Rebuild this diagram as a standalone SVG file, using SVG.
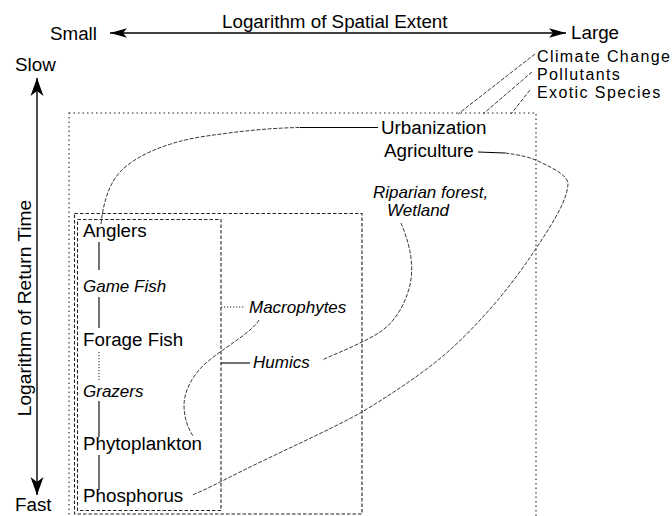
<svg xmlns="http://www.w3.org/2000/svg" width="672" height="516" viewBox="0 0 672 516">
  <defs>
    <style>
      .t { font-family: "Liberation Sans", Arial, Helvetica, sans-serif; font-size: 18.8px; fill: #000; }
      .d { font-family: "Liberation Sans", Arial, Helvetica, sans-serif; font-size: 16px; letter-spacing: 1.4px; fill: #000; }
      .i { font-family: "Liberation Sans", Arial, Helvetica, sans-serif; font-size: 17px; font-style: italic; fill: #000; }
      .axis { stroke: #000; stroke-width: 1.4; fill: none; }
      .solid { stroke: #000; stroke-width: 1.1; fill: none; }
      .dash { stroke: #222; stroke-width: 0.9; fill: none; stroke-dasharray: 4 1.6; }
      .dot { stroke: #222; stroke-width: 1; fill: none; stroke-dasharray: 1.2 1.8; }
      .outer { stroke: #222; stroke-width: 1.1; fill: none; stroke-dasharray: 1.5 3; }
      .boxd { stroke: #222; stroke-width: 1.1; fill: none; stroke-dasharray: 3.5 2; }
    </style>
    <marker id="arrH" markerUnits="userSpaceOnUse" markerWidth="20" markerHeight="12" refX="17" refY="6" orient="auto-start-reverse" viewBox="0 0 20 12">
      <path d="M0,1.2 L17,6 L0,10.8 L4,6 Z" fill="#000"/>
    </marker>
    <marker id="arrV" markerUnits="userSpaceOnUse" markerWidth="20" markerHeight="16" refX="18" refY="8" orient="auto-start-reverse" viewBox="0 0 20 16">
      <path d="M0,1.5 L18,8 L0,14.5 L5,8 Z" fill="#000"/>
    </marker>
  </defs>

  <g id="axes">
    <line class="axis" x1="110" y1="33" x2="566" y2="33" marker-start="url(#arrH)" marker-end="url(#arrH)"/>
    <line class="axis" x1="37" y1="78" x2="37" y2="495" marker-start="url(#arrV)" marker-end="url(#arrV)"/>
    <text class="t" x="50" y="40">Small</text>
    <text class="t" x="222" y="28">Logarithm of Spatial Extent</text>
    <text class="t" x="571" y="39">Large</text>
    <text class="t" x="15" y="71">Slow</text>
    <text class="t" x="15" y="511">Fast</text>
    <text class="t" x="31" y="308" text-anchor="middle" transform="rotate(-90 31 308)" style="font-size:19.2px">Logarithm of Return Time</text>
  </g>

  <g id="boxes">
    <rect id="outer-box" class="outer" x="69" y="113" width="467" height="420"/>
    <rect id="middle-box" class="boxd" x="74.5" y="213.5" width="287.5" height="300.5"/>
    <rect id="inner-box" class="boxd" x="77.5" y="219.5" width="143.5" height="291"/>
  </g>

  <g id="connectors">
    <line class="solid" x1="99" y1="242" x2="99" y2="270"/>
    <line class="solid" x1="99" y1="297" x2="99" y2="328"/>
    <line class="dot" x1="99" y1="352" x2="99" y2="380"/>
    <line class="solid" x1="99" y1="401" x2="99" y2="437"/>
    <line class="solid" x1="99" y1="455" x2="99" y2="490"/>
    <path class="dash" d="M101,224 C103,205 108,185 120,172 C135,156 165,143 200,137 C240,131 270,128 300,127.5"/>
    <line class="solid" x1="300" y1="127.5" x2="378" y2="127.5" stroke-width="1.3"/>
    <line class="solid" x1="478" y1="152" x2="505" y2="153"/>
    <path class="dash" d="M505,153 C520,155 530,157 540,162 C555,169 568,176 568,184 C567,200 555,220 535,250 C515,280 490,313 450,350 C425,372 395,392 362,412 C330,430 280,452 240,472 C220,482 205,490 192,495"/>
    <path class="dash" d="M401,223 C408,240 415,262 410,285 C405,305 395,322 380,332 C365,342 340,352 322,360"/>
    <path class="dash" d="M259,320 C252,332 228,345 207,362 C192,375 184,392 184,405 C184,418 188,428 193,436"/>
    <line class="dot" x1="221" y1="307" x2="245" y2="307"/>
    <line class="solid" x1="221" y1="363" x2="250" y2="363"/>
    <line class="dash" x1="535" y1="54" x2="458" y2="114"/>
    <line class="dash" x1="532" y1="72" x2="483" y2="114"/>
    <line class="dash" x1="530" y1="90" x2="511" y2="114"/>
  </g>

  <g id="drivers">
    <text class="d" x="537" y="62">Climate Change</text>
    <text class="d" x="537" y="80">Pollutants</text>
    <text class="d" x="537" y="98">Exotic Species</text>
  </g>
  <g id="urbanization"><text class="t" x="381" y="134">Urbanization</text></g>
  <g id="agriculture"><text class="t" x="384" y="157">Agriculture</text></g>
  <g id="riparian">
    <text class="i" x="373" y="198">Riparian forest,</text>
    <text class="i" x="387" y="216">Wetland</text>
  </g>
  <g id="macrophytes"><text class="i" x="249" y="313">Macrophytes</text></g>
  <g id="humics"><text class="i" x="253" y="368">Humics</text></g>
  <g id="anglers"><text class="t" x="83" y="237">Anglers</text></g>
  <g id="game-fish"><text class="i" x="83" y="292">Game Fish</text></g>
  <g id="forage-fish"><text class="t" x="83" y="346">Forage Fish</text></g>
  <g id="grazers"><text class="i" x="83" y="397">Grazers</text></g>
  <g id="phytoplankton"><text class="t" x="83" y="450">Phytoplankton</text></g>
  <g id="phosphorus"><text class="t" x="83" y="502">Phosphorus</text></g>
</svg>
